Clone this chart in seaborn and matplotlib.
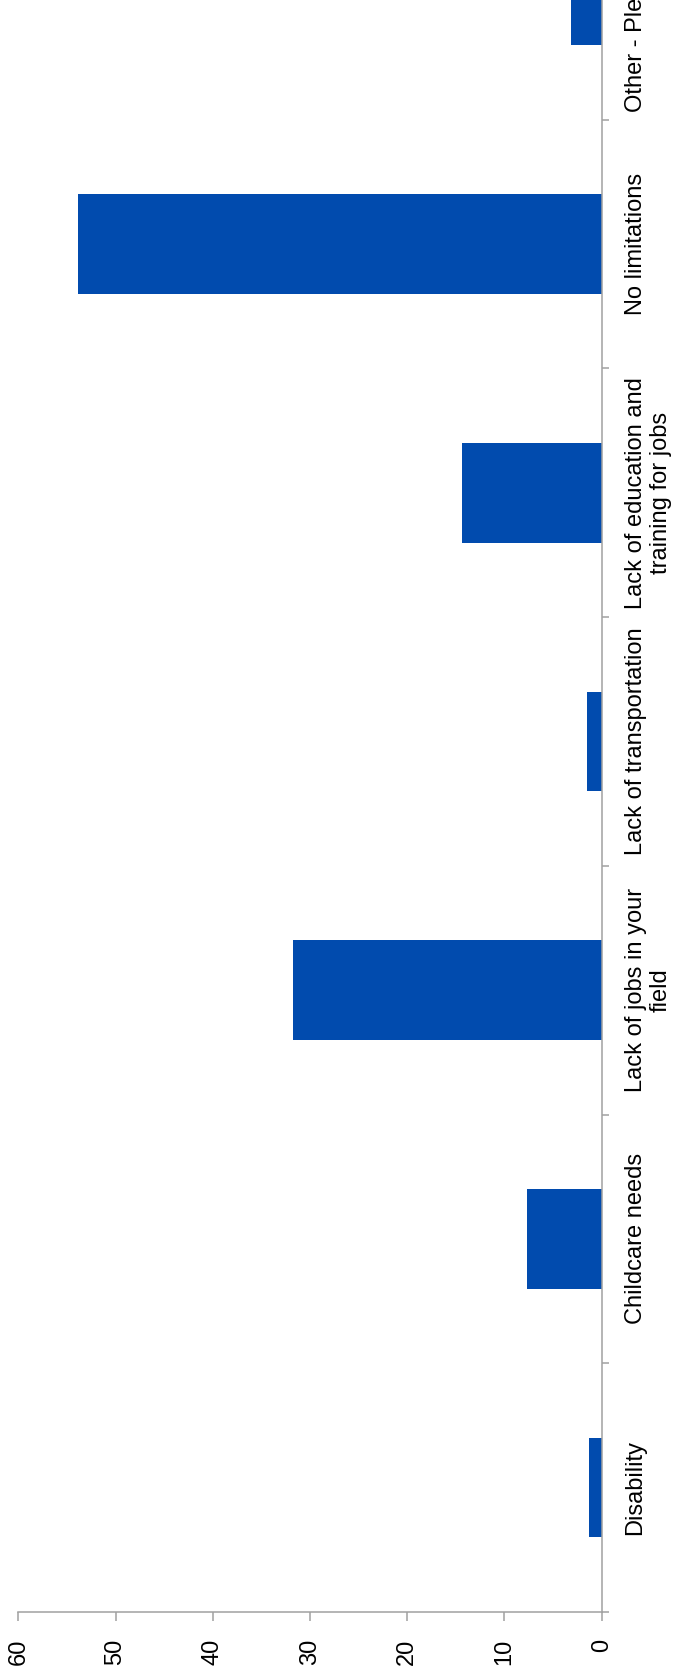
import matplotlib
matplotlib.use("Agg")
import matplotlib.pyplot as plt
import numpy as np
import pandas as pd
import seaborn as sns

# survey answers, bottom to top as they appear on the rotated chart
categories = [
    "Disability",
    "Childcare needs",
    "Lack of jobs in your\nfield",
    "Lack of transportation",
    "Lack of education and\ntraining for jobs",
    "No limitations",
    "Other - Please specify",
]
percent = [1.3, 7.7, 31.8, 1.5, 14.4, 53.9, 3.2]
value_ticks = [0, 10, 20, 30, 40, 50, 60]

BAR_COLOR = "#014BAE"
AXIS_COLOR = "#A0A0A0"

sns.set_style("white")
plt.rcParams["font.family"] = ["Liberation Sans", "DejaVu Sans"]

df = pd.DataFrame({"category": categories, "percent": percent})

fig = plt.figure(figsize=(6.76, 16.73), dpi=100)
# the chart is cut off at the top, so the axes run past the figure edge
ax = fig.add_axes([0.0271, 0.0365, 0.8630, 1.0406])
sns.barplot(data=df, x="percent", y="category", orient="h", color=BAR_COLOR,
            saturation=1, width=0.4, linewidth=0, ax=ax)

ax.set_xlim(60, 0)
ax.set_ylim(-0.5, len(categories) - 0.5)
ax.set_xlabel("")
ax.set_ylabel("")

# category axis on the right, labels turned like the rest of the chart
ax.yaxis.tick_right()
ax.set_yticks(range(len(categories)))
ax.set_yticklabels(categories, rotation=90, va="center", ha="left",
                   multialignment="center", linespacing=1.2)
ax.set_yticks(np.arange(-0.5, len(categories), 1), minor=True)
ax.tick_params(axis="y", which="major", length=0, pad=16.5, labelsize=17,
               labelcolor="black")
ax.tick_params(axis="y", which="minor", length=5, width=1.1, color=AXIS_COLOR,
               direction="out", right=True, left=False)

ax.set_xticks(value_ticks)
ax.set_xticklabels([str(v) for v in value_ticks])
ax.tick_params(axis="x", which="major", length=6.5, width=1.1, color=AXIS_COLOR,
               direction="out", pad=13, labelsize=17, labelrotation=90,
               bottom=True, labelcolor="black")

for side in ["left", "top"]:
    ax.spines[side].set_visible(False)
for side in ["right", "bottom"]:
    ax.spines[side].set_visible(True)
    ax.spines[side].set_color(AXIS_COLOR)
    ax.spines[side].set_linewidth(1.1)

ax.grid(False)
fig.savefig("out.png", dpi=100)
plt.close(fig)
